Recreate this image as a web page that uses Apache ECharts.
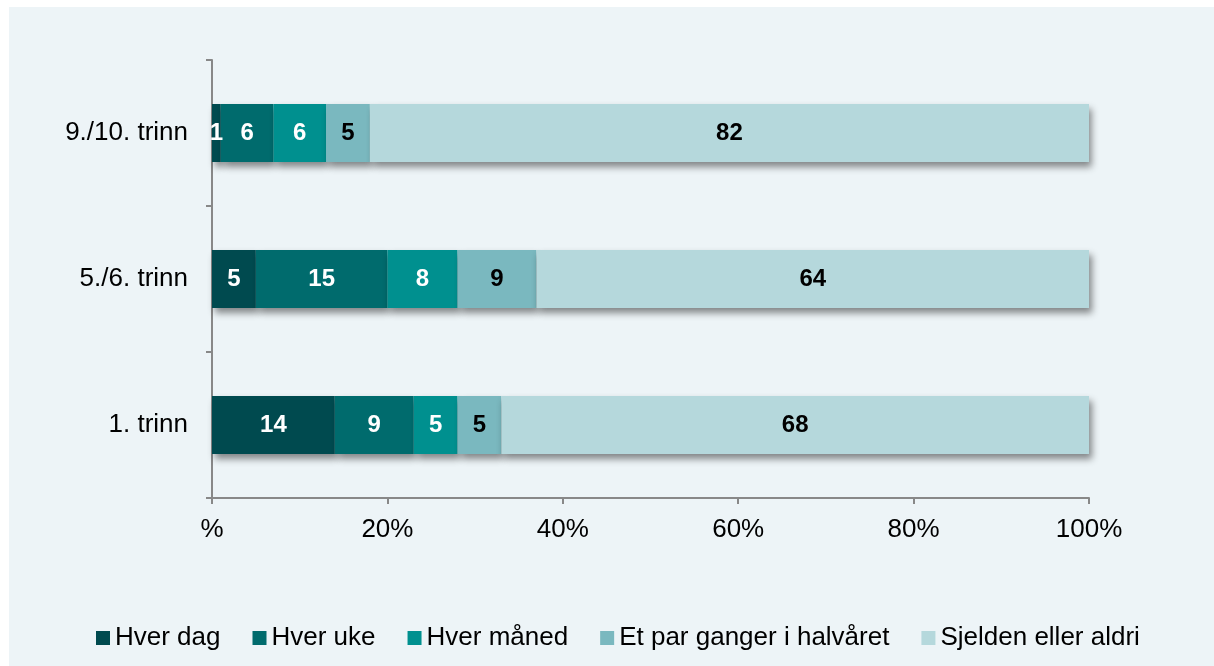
<!DOCTYPE html>
<html>
<head>
<meta charset="utf-8">
<script src="https://cdn.jsdelivr.net/npm/echarts@6/dist/echarts.min.js"></script>
<style>
  html, body { margin: 0; padding: 0; background: #ffffff; }
  #chart { position: absolute; left: 9px; top: 7px; width: 1205px; height: 659px; background: #edf4f7; }
</style>
</head>
<body>
<div id="chart"></div>
<script>
// categories bottom -> top
const categories = ['1. trinn', '5./6. trinn', '9./10. trinn'];
const seriesNames = ['Hver dag', 'Hver uke', 'Hver måned', 'Et par ganger i halvåret', 'Sjelden eller aldri'];
const hverDag = [14, 5, 1];
const hverUke = [9, 15, 6];
const hverManed = [5, 8, 6];
const etPar = [5, 9, 5];
const sjelden = [68, 64, 82];
const xTicks = [0, 20, 40, 60, 80, 100];

const colors = ['#004a4f', '#006b6d', '#00908f', '#7ab8bf', '#b5d8dc'];
const labelColors = ['#ffffff', '#ffffff', '#ffffff', '#000000', '#000000'];
const values = [hverDag, hverUke, hverManed, etPar, sjelden];

const chart = echarts.init(document.getElementById('chart'));

chart.setOption({
  animation: false,
  textStyle: { fontFamily: 'Liberation Sans, Arial, sans-serif' },
  grid: { left: 203, top: 53, width: 877, height: 438 },
  legend: {
    top: 613,
    left: 82,
    itemWidth: 14,
    itemHeight: 14,
    itemGap: 32,
    icon: 'rect',
    textStyle: { fontSize: 26, color: '#000' },
    data: seriesNames
  },
  xAxis: {
    type: 'value',
    min: xTicks[0],
    max: xTicks[xTicks.length - 1],
    interval: 20,
    splitLine: { show: false },
    axisLine: { show: true, lineStyle: { color: '#888', width: 2 } },
    axisTick: { show: true, length: 6, lineStyle: { color: '#888', width: 2 } },
    axisLabel: {
      fontSize: 26, color: '#000', margin: 19,
      formatter: v => v === 0 ? '%' : v + '%'
    }
  },
  yAxis: {
    type: 'category',
    data: categories,
    axisLine: { show: true, lineStyle: { color: '#888', width: 2 } },
    axisTick: { show: true, length: 6, lineStyle: { color: '#888', width: 2 } },
    axisLabel: { fontSize: 26, color: '#000', margin: 24 }
  },
  series: seriesNames.map((name, i) => ({
    name,
    type: 'bar',
    stack: 'total',
    barWidth: 58,
    data: values[i],
    itemStyle: {
      color: colors[i],
      shadowColor: 'rgba(0,0,0,0.45)',
      shadowBlur: 7,
      shadowOffsetX: 3,
      shadowOffsetY: 5
    },
    label: {
      show: true,
      position: 'inside',
      fontSize: 24,
      fontWeight: 'bold',
      color: labelColors[i]
    }
  }))
});
</script>
</body>
</html>
